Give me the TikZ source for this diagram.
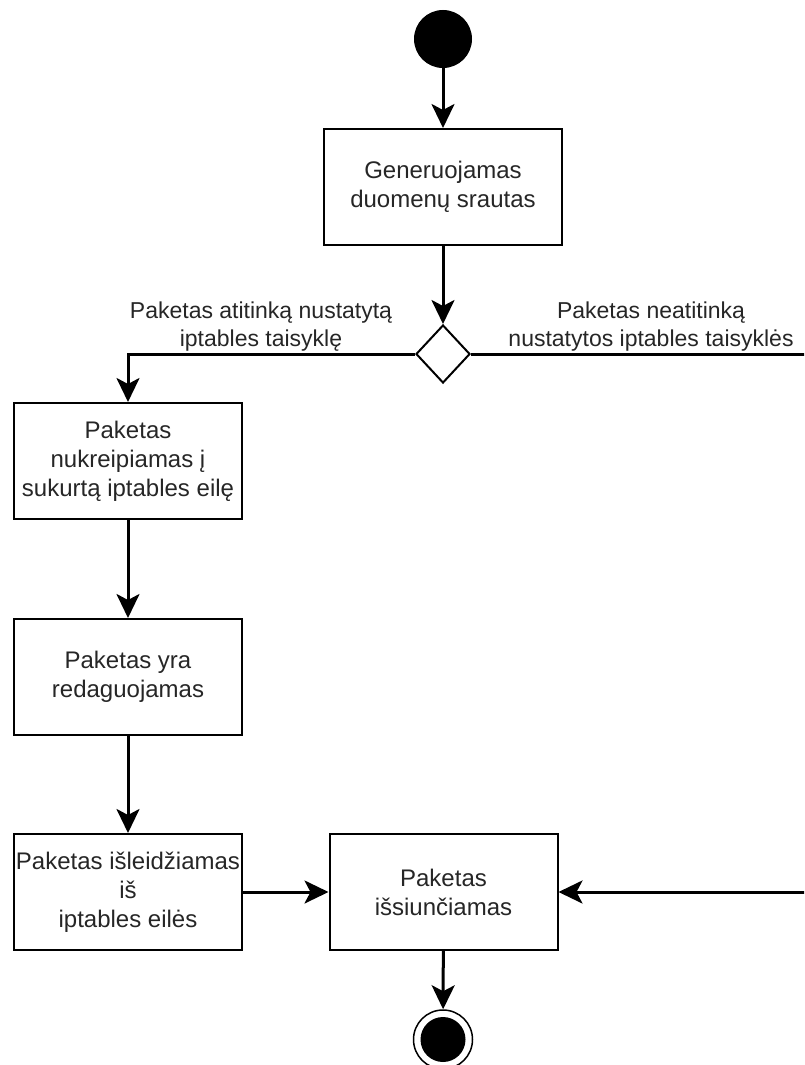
\documentclass[tikz,border=0pt]{standalone}
\usepackage{fontspec}
\setmainfont{Liberation Sans}
\usetikzlibrary{arrows.meta,shapes.geometric}
\begin{document}
\begin{tikzpicture}[x=1pt,y=-1pt,
  every node/.style={font=\fontsize{23}{28.5}\selectfont, text=black!85},
  action/.style={draw=black, line width=2pt, minimum width=228pt, minimum height=116pt,
                 align=center, inner sep=0pt, font=\fontsize{24}{29}\selectfont},
  flow/.style={line width=3pt, -{Stealth[length=24pt,width=23pt,inset=6pt]}},
  lbl/.style={align=center, inner sep=0pt}]
\useasboundingbox (0,0) rectangle (804,1065);
\clip (0,0) rectangle (804,1065);

% initial and final states
\node[circle, fill=black, minimum size=58pt, inner sep=0pt] (start) at (443,39) {};
\node[circle, draw=black, line width=1.5pt, minimum size=59pt, inner sep=0pt] (end) at (443,1039.5) {};
\node[circle, fill=black, minimum size=45pt, inner sep=0pt] (endcore) at (end) {};

% actions
\node[action, minimum width=238pt] (gen) at (443,187) {Generuojamas\\duomenų srautas};
\node[diamond, draw=black, line width=2pt, minimum width=54pt, minimum height=58pt, inner sep=0pt] (dec) at (443,354) {};
\node[action] (fwd) at (128,461) {Paketas\\nukreipiamas į\\sukurtą iptables eilę};
\node[action] (edit) at (128,677) {Paketas yra\\redaguojamas};
\node[action] (rel) at (128,892) {Paketas išleidžiamas\\iš\\iptables eilės};
\node[action] (send) at (443.5,892) {Paketas\\išsiunčiamas};

% guard labels
\node[lbl] (lblA) at (261,326.5) {Paketas atitinką nustatytą\\iptables taisyklę};
\node[lbl] (lblB) at (651,326.5) {Paketas neatitinką\\nustatytos iptables taisyklės};

% control flow
\coordinate (rt) at (814,354);
\draw[flow] (start) -- (gen);
\draw[flow] (gen) -- (dec);
\draw[flow] (dec.west) -| (fwd.north);
\draw[flow] (fwd) -- (edit);
\draw[flow] (edit) -- (rel);
\draw[flow] (rel) -- (send);
\draw[flow] (dec.east) -- (rt) |- (send.east);
\draw[flow] (send) -- (end);
\end{tikzpicture}
\end{document}
